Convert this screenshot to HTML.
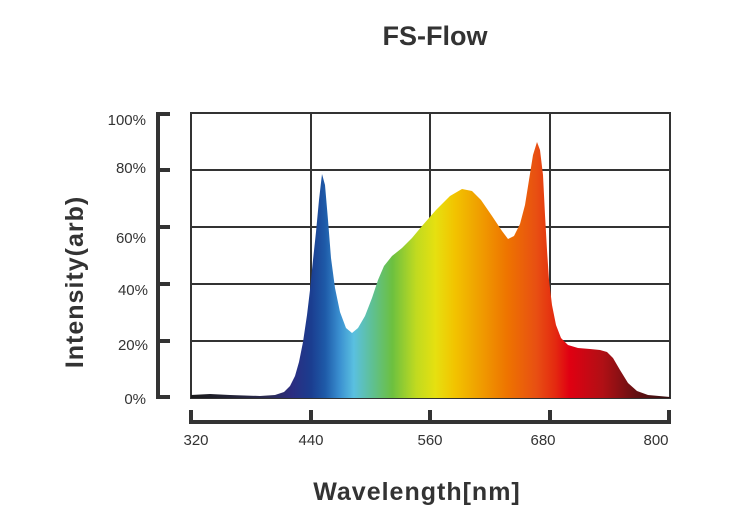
<!DOCTYPE html>
<html><head><meta charset="utf-8"><style>html,body{margin:0;padding:0;background:#fff}svg{display:block}</style></head>
<body>
<svg width="740" height="520" viewBox="0 0 740 520" xmlns="http://www.w3.org/2000/svg" font-family="Liberation Sans, sans-serif">
<defs>
<linearGradient id="sp" gradientUnits="userSpaceOnUse" x1="191" y1="0" x2="670" y2="0">
<stop offset="0" stop-color="#1a1a1a"/>
<stop offset="0.16" stop-color="#2a2a50"/>
<stop offset="0.21" stop-color="#2b2c80"/>
<stop offset="0.25" stop-color="#1b3d8f"/>
<stop offset="0.28" stop-color="#1e5aa8"/>
<stop offset="0.31" stop-color="#3a8fd0"/>
<stop offset="0.34" stop-color="#5ac0e0"/>
<stop offset="0.38" stop-color="#5fc090"/>
<stop offset="0.42" stop-color="#6cc040"/>
<stop offset="0.47" stop-color="#c0da20"/>
<stop offset="0.51" stop-color="#e6e010"/>
<stop offset="0.55" stop-color="#f2c400"/>
<stop offset="0.6" stop-color="#f0a000"/>
<stop offset="0.66" stop-color="#ee7400"/>
<stop offset="0.72" stop-color="#e85012"/>
<stop offset="0.76" stop-color="#e42a10"/>
<stop offset="0.79" stop-color="#e00012"/>
<stop offset="0.86" stop-color="#b01015"/>
<stop offset="0.93" stop-color="#641012"/>
<stop offset="1" stop-color="#301010"/>
</linearGradient>
</defs>
<text x="435" y="45" text-anchor="middle" font-size="27" font-weight="bold" fill="#333">FS-Flow</text>
<g stroke="#333" stroke-width="2" fill="none">
<rect x="191" y="113" width="479" height="285"/>
<line x1="311" y1="113" x2="311" y2="398"/>
<line x1="430" y1="113" x2="430" y2="398"/>
<line x1="550" y1="113" x2="550" y2="398"/>
<line x1="191" y1="170" x2="670" y2="170"/>
<line x1="191" y1="227" x2="670" y2="227"/>
<line x1="191" y1="284" x2="670" y2="284"/>
<line x1="191" y1="341" x2="670" y2="341"/>
</g>
<path fill="url(#sp)" d="M191,398 L191,395 L210,394 L230,395 L260,396 L275,395 L284,392 L290,386 L295,376 L299,362 L303,342 L307,315 L310,290 L313,260 L316,232 L319,200 L322,174 L325,185 L328,220 L331,258 L335,288 L340,312 L346,328 L352,333 L358,328 L365,316 L372,298 L378,280 L384,266 L392,256 L402,248 L412,238 L422,226 L436,210 L450,196 L462,189 L472,191 L481,200 L492,216 L502,231 L508,239 L514,236 L520,224 L525,205 L529,180 L533,155 L537,142 L540,150 L543,175 L545,215 L547,250 L549,280 L552,305 L556,325 L561,338 L568,345 L578,348 L590,349 L600,350 L607,352 L613,358 L620,370 L628,383 L637,391 L648,395 L670,397 L670,398 Z"/>
<g stroke="#333" stroke-width="4" fill="none">
<path d="M170,114 L158,114 L158,397 L170,397"/>
<line x1="158" y1="170" x2="170" y2="170"/>
<line x1="158" y1="227" x2="170" y2="227"/>
<line x1="158" y1="284" x2="170" y2="284"/>
<line x1="158" y1="341" x2="170" y2="341"/>
<path d="M191,410 L191,422 L669,422 L669,410"/>
<line x1="311" y1="410" x2="311" y2="422"/>
<line x1="430" y1="410" x2="430" y2="422"/>
<line x1="550" y1="410" x2="550" y2="422"/>
</g>
<g font-size="15" fill="#333" text-anchor="end">
<text x="146" y="125">100%</text>
<text x="146" y="173">80%</text>
<text x="146" y="243">60%</text>
<text x="148" y="295">40%</text>
<text x="148" y="350">20%</text>
<text x="146" y="404">0%</text>
</g>
<g font-size="15" fill="#333" text-anchor="middle">
<text x="196" y="445">320</text>
<text x="311" y="445">440</text>
<text x="430" y="445">560</text>
<text x="543" y="445">680</text>
<text x="656" y="445">800</text>
</g>
<text x="417" y="500" text-anchor="middle" font-size="25" font-weight="bold" fill="#333" letter-spacing="1">Wavelength[nm]</text>
<text transform="translate(83,282) rotate(-90)" text-anchor="middle" font-size="25" font-weight="bold" fill="#333" letter-spacing="1">Intensity(arb)</text>
</svg>
</body></html>
